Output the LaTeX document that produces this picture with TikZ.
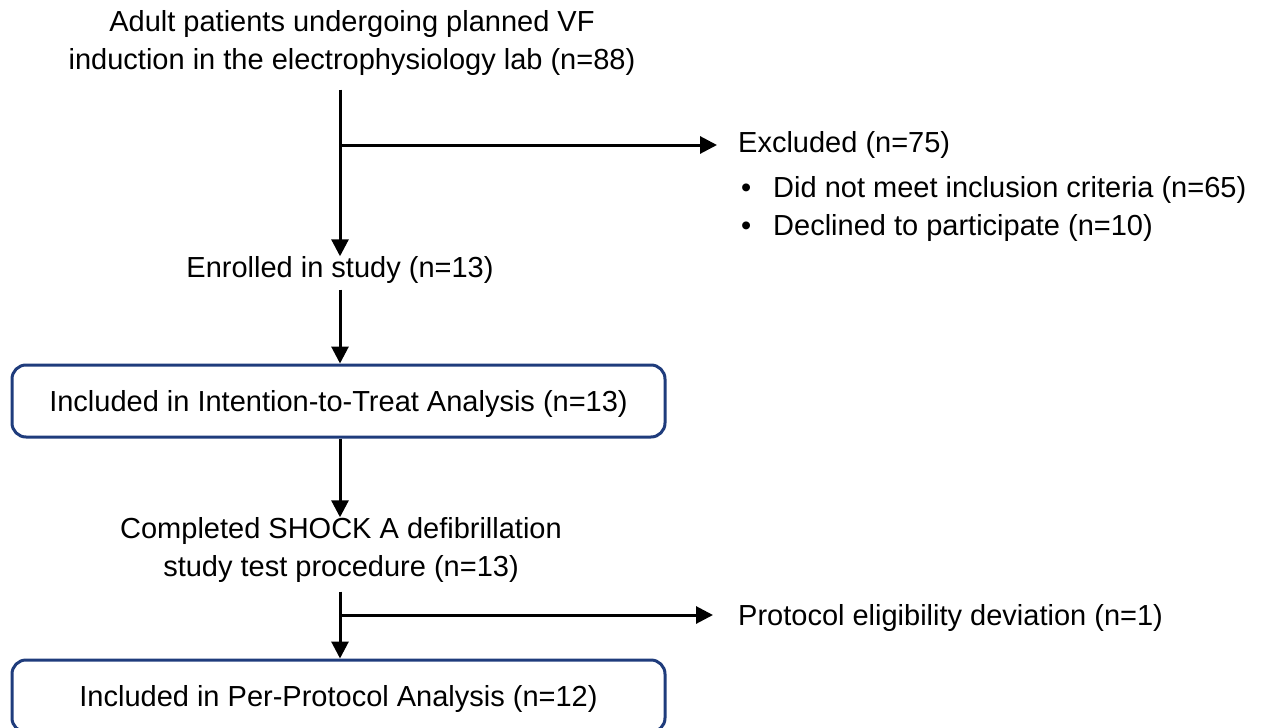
\documentclass[tikz,border=0pt]{standalone}
\usepackage{fontspec}
\setmainfont{Liberation Sans}
\usetikzlibrary{arrows.meta}
\definecolor{boxblue}{HTML}{1F3C7C}
\begin{document}
\begin{tikzpicture}[x=1pt,y=-1pt,
  txt/.style={inner sep=0pt, align=center, font=\fontsize{29}{38}\selectfont},
  lft/.style={txt, anchor=west, align=left},
  flowbox/.style={txt, draw=boxblue, line width=3pt, rounded corners=14pt,
    text height=20pt, text depth=0pt,
    minimum width=653pt, minimum height=72pt},
  link/.style={line width=3pt, -{Triangle[length=17pt,width=17pt]}}]
\useasboundingbox (0,0) rectangle (1267,728);
\clip (0,0) rectangle (1267,728);

% main column of the flow
\node[txt] (top) at (352,43) {Adult patients undergoing planned VF\\induction in the electrophysiology lab (n=88)};
\node[txt] (enr) at (340,270) {Enrolled in study (n=13)};
\node[flowbox] (itt) at (338.5,401) {Included in Intention-to-Treat Analysis (n=13)};
\node[txt] (comp) at (341,550) {Completed SHOCK A defibrillation\\study test procedure (n=13)};
\node[flowbox] (pp) at (338.5,696) {Included in Per-Protocol Analysis (n=12)};

% side notes
\node[lft] (excl) at (738,145) {Excluded (n=75)};
\node[lft] (exa) at (741,190) {\makebox[32pt][l]{•}Did not meet inclusion criteria (n=65)};
\node[lft] (exb) at (741,228) {\makebox[32pt][l]{•}Declined to participate (n=10)};
\node[lft] (dev) at (738,618) {Protocol eligibility deviation (n=1)};

% connectors
\draw[link, shorten <=14pt] (top.south -| enr.north) -- (enr.north);
\coordinate (b1) at (340,145);
\draw[link, shorten >=21pt] (b1) -- (b1 -| excl.west);
\draw[link, shorten <=6pt] (enr.south) -- (enr.south |- itt.north);
\draw[link] (enr.south |- itt.south) -- (enr.south |- comp.north);
\draw[link, shorten <=9pt] (comp.south -| enr.south) -- (enr.south |- pp.north);
\coordinate (b2) at (340,615);
\draw[link, shorten >=25pt] (b2) -- (b2 -| dev.west);
\end{tikzpicture}
\end{document}
